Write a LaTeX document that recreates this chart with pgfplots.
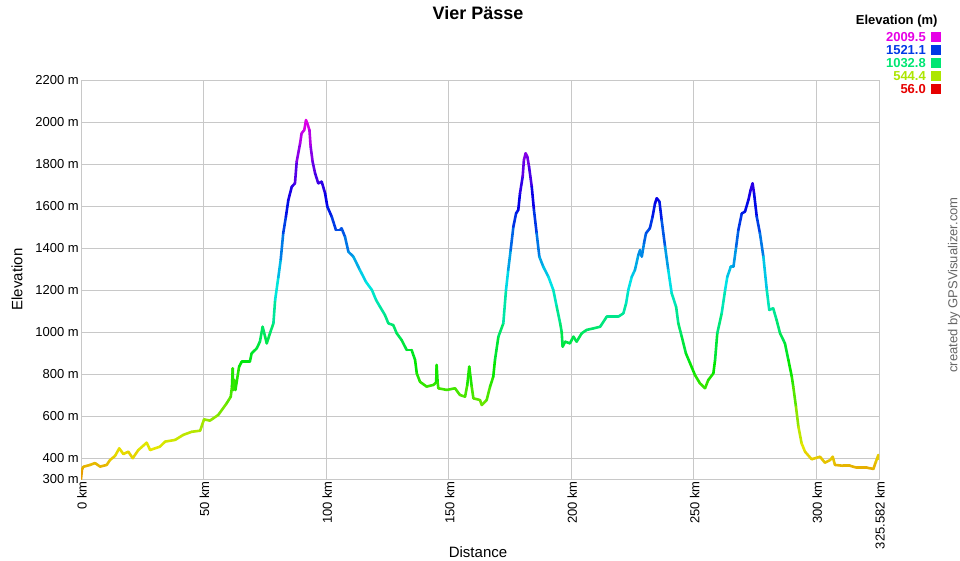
\documentclass[border=0pt]{standalone}
\usepackage{pgfplots}
\pgfplotsset{compat=1.18}
\usepackage{fontspec}
\setmainfont{Liberation Sans}
\definecolor{cmag}{RGB}{230,0,230}
\definecolor{cblu}{RGB}{0,57,230}
\definecolor{cgrn}{RGB}{0,230,115}
\definecolor{cyel}{RGB}{172,230,0}
\definecolor{cred}{RGB}{230,0,0}
\definecolor{gridc}{RGB}{200,200,200}
\begin{document}
\begin{tikzpicture}
\useasboundingbox (0,0) rectangle (960pt,560pt);
\begin{axis}[
  at={(81pt,81pt)}, anchor=south west,
  scale only axis, width=798pt, height=399pt,
  xmin=0, xmax=325.582, ymin=300, ymax=2200,
  xtick={0,50,100,150,200,250,300,325.582},
  xticklabels={0 km,50 km,100 km,150 km,200 km,250 km,300 km,325.582 km},
  ytick={300,400,600,800,1000,1200,1400,1600,1800,2000,2200},
  yticklabels={300 m,400 m,600 m,800 m,1000 m,1200 m,1400 m,1600 m,1800 m,2000 m,2200 m},
  major tick length=0pt,
  xmajorgrids, ymajorgrids,
  grid style={draw=gridc, line width=0.8pt},
  axis line style={draw=gridc, line width=0.8pt},
  tick label style={font=\fontsize{13}{15}\selectfont, text=black},
  xticklabel style={rotate=90, anchor=east, inner sep=2pt, yshift=-1pt},
  yticklabel style={inner sep=2pt},
  xlabel={Distance}, ylabel={Elevation},
  every axis x label/.style={at={(axis description cs:0.4975,-0.183)}, anchor=center, font=\fontsize{15}{17}\selectfont},
  every axis y label/.style={at={(axis description cs:-0.0802,0.5)}, anchor=center, rotate=90, font=\fontsize{15}{17}\selectfont},
  colormap={gps}{rgb255=(230,0,0) rgb255=(230,230,0) rgb255=(0,230,0) rgb255=(0,230,230) rgb255=(0,0,230) rgb255=(230,0,230)},
  point meta min=56, point meta max=2009.5,
  clip=true,
]
\addplot[mesh, point meta=y, line width=2.6pt, line cap=round, line join=round] coordinates {
(0,300)(0.4,345)(0.9,358)(3.7,367)(5.7,376)(7.8,359)(10.5,367)(11.8,390)(13.9,410)(15.6,446)(17.3,419)(19.3,430)(21.1,399)(23.4,438)(26.8,473)(28.2,438)(32.2,454)(34.3,478)(38.4,486)(41.7,510)(45.2,525)(48.6,530)(50.2,584)(52.6,578)(56.0,605)(59.4,660)(61.1,692)(61.6,740)(61.9,827)(62.1,724)(62.6,771)(63.0,724)(64.5,835)(65.6,859)(68.9,859)(69.6,898)(71.7,922)(73.0,954)(74.1,1025)(75.1,978)(75.8,946)(77.1,994)(78.5,1041)(79.2,1152)(80.5,1260)(81.5,1346)(82.5,1470)(83.6,1549)(84.6,1629)(86.0,1692)(87.3,1708)(88.0,1811)(89.4,1899)(90.0,1946)(91.1,1962)(91.8,2009)(92.3,1994)(93.2,1962)(93.7,1882)(94.5,1811)(95.5,1756)(96.8,1708)(98.2,1716)(99.6,1660)(100.5,1597)(102.3,1549)(104.0,1486)(105.7,1486)(106.3,1494)(107.7,1454)(109.1,1382)(111.1,1359)(113.8,1295)(116.3,1238)(118.7,1200)(120.4,1152)(122.0,1120)(124.0,1081)(125.4,1041)(127.4,1033)(128.8,994)(130.8,962)(132.9,914)(134.9,914)(136.3,867)(137.0,803)(138.3,763)(141.0,740)(143.8,748)(144.9,760)(145.1,843)(145.5,760)(145.8,732)(149.2,724)(152.6,732)(154.6,700)(156.7,692)(157.6,748)(158.4,835)(159.4,740)(160.1,684)(162.8,676)(163.5,652)(165.5,676)(166.9,740)(168.2,787)(168.9,867)(170.3,978)(172.3,1041)(173.4,1200)(174.3,1295)(175.3,1390)(176.4,1501)(177.5,1565)(178.4,1581)(179.1,1660)(180.2,1740)(180.7,1819)(181.4,1851)(182.1,1835)(182.8,1787)(183.9,1692)(184.8,1581)(185.9,1470)(187.0,1359)(188.6,1311)(190.7,1263)(192.7,1200)(194.1,1120)(195.5,1041)(196.1,1001)(196.5,930)(197.5,954)(199.5,946)(200.9,978)(202.2,954)(204.3,994)(206.3,1010)(209.0,1017)(211.8,1025)(214.5,1073)(217.2,1073)(219.2,1073)(221.3,1089)(222.4,1137)(223.3,1200)(224.7,1263)(226.0,1295)(227.4,1367)(228.1,1390)(228.8,1359)(229.7,1422)(230.5,1470)(232.1,1494)(233.2,1549)(234.2,1613)(234.9,1637)(236.0,1621)(236.9,1533)(238.3,1406)(239.6,1295)(241.0,1184)(242.8,1120)(243.7,1041)(245.1,978)(246.8,898)(248.5,851)(250.5,795)(252.5,756)(254.6,732)(255.9,771)(258.0,803)(258.7,867)(259.6,994)(261.4,1089)(262.8,1200)(263.7,1263)(265.1,1311)(266.2,1311)(267.3,1406)(268.2,1486)(269.6,1565)(270.9,1573)(272.3,1629)(273.2,1676)(274.0,1708)(274.6,1660)(275.7,1549)(277.0,1470)(278.4,1359)(279.8,1200)(280.8,1105)(282.4,1113)(283.8,1057)(285.2,994)(287.2,946)(288.6,867)(290.0,787)(290.6,740)(291.7,644)(292.7,549)(294.0,470)(295.4,430)(298.1,394)(301.5,406)(303.5,378)(305.6,390)(306.7,406)(307.6,367)(311.0,363)(313.7,363)(316.5,354)(320.6,354)(323.3,348)(324.3,382)(325.3,414)(325.582,395)
};
\end{axis}
\node[font=\fontsize{18}{20}\selectfont\bfseries] at (478pt,547pt) {Vier Pässe};
\node[anchor=east, font=\fontsize{13}{15}\selectfont\bfseries] at (941pt,539pt) {Elevation (m)};
\node[anchor=east, font=\fontsize{13}{15}\selectfont\bfseries, inner sep=0pt] at (941pt,523pt) {\textcolor{cmag}{2009.5}\hspace{5pt}\textcolor{cmag}{\rule{10pt}{10pt}}};
\node[anchor=east, font=\fontsize{13}{15}\selectfont\bfseries, inner sep=0pt] at (941pt,510pt) {\textcolor{cblu}{1521.1}\hspace{5pt}\textcolor{cblu}{\rule{10pt}{10pt}}};
\node[anchor=east, font=\fontsize{13}{15}\selectfont\bfseries, inner sep=0pt] at (941pt,497pt) {\textcolor{cgrn}{1032.8}\hspace{5pt}\textcolor{cgrn}{\rule{10pt}{10pt}}};
\node[anchor=east, font=\fontsize{13}{15}\selectfont\bfseries, inner sep=0pt] at (941pt,484pt) {\textcolor{cyel}{544.4}\hspace{5pt}\textcolor{cyel}{\rule{10pt}{10pt}}};
\node[anchor=east, font=\fontsize{13}{15}\selectfont\bfseries, inner sep=0pt] at (941pt,471pt) {\textcolor{cred}{56.0}\hspace{5pt}\textcolor{cred}{\rule{10pt}{10pt}}};
\node[rotate=90, font=\fontsize{13}{15}\selectfont, text=black!60] at (954pt,275pt) {created by GPSVisualizer.com};
\end{tikzpicture}
\end{document}
